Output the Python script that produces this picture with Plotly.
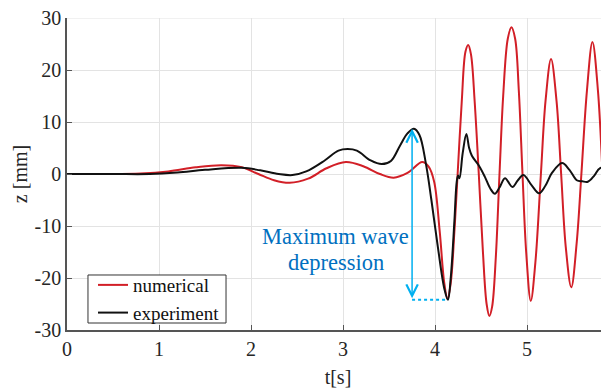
import plotly.graph_objects as go

# ---- data ----
t_num = [0, 0.4, 0.8, 1.1, 1.4, 1.68, 1.9, 2.08, 2.25, 2.42, 2.62, 2.82, 3.03, 3.22, 3.4, 3.55,
         3.7, 3.86, 3.93, 3.99, 4.05, 4.1, 4.135, 4.17, 4.21, 4.245, 4.29, 4.33, 4.36, 4.39,
         4.43, 4.475, 4.52, 4.56, 4.59, 4.62, 4.66, 4.70, 4.74, 4.79, 4.83, 4.87, 4.91, 4.95,
         4.99, 5.04, 5.09, 5.15, 5.2, 5.26, 5.32, 5.37, 5.42, 5.48, 5.54, 5.59, 5.65, 5.71,
         5.77, 5.82, 5.86, 5.89]
z_num = [0, 0, 0.1, 0.5, 1.3, 1.7, 1.3, 0, -1.2, -1.7, -0.9, 1.1, 2.3, 1.5, 0, -0.7,
         0.2, 2.3, 1.4, -1.5, -11, -21, -24.0, -21, -11, 0, 14, 23.5, 24.8, 23,
         14, 0, -15, -25, -27.3, -25.5, -16, 0, 15, 26, 28.2, 26, 16, 0,
         -15, -24.4, -17, 0, 14, 22.1, 14, 0, -14, -21.8, -13, 0, 16, 25.4,
         16, 0, -15, -26]

t_exp = [0, 0.5, 0.9, 1.2, 1.5, 1.9, 2.1, 2.3, 2.45, 2.6, 2.8, 2.95, 3.05, 3.15, 3.3, 3.42,
         3.52, 3.62, 3.7, 3.77, 3.83, 3.9, 3.96, 4.03, 4.1, 4.14, 4.17, 4.21, 4.235, 4.25,
         4.265, 4.30, 4.34, 4.37, 4.40, 4.48, 4.54, 4.60, 4.65, 4.70, 4.76, 4.84, 4.90, 4.96,
         5.05, 5.13, 5.2, 5.27, 5.38, 5.46, 5.54, 5.60, 5.66, 5.73, 5.79, 5.89]
z_exp = [0, 0, 0, 0.3, 0.8, 1.2, 0.7, 0, -0.2, 0.5, 2.6, 4.5, 4.8, 4.5, 2.6, 1.9,
         2.5, 5.5, 7.8, 8.7, 7.5, 2, -5, -14, -22, -24.2, -20, -9, -1.5, -0.3,
         -0.8, 4, 7.7, 5, 3.5, 1.5, -0.5, -2.8, -3.8, -2.6, -0.8, -2.5, -1.2, -0.2,
         -2.2, -3.7, -2.2, 0.2, 2.1, 0.8, -1.2, -1.4, -1.5, -0.3, 1.1, 1.2]

x_ticks = [0, 1, 2, 3, 4, 5]
y_ticks = [-30, -20, -10, 0, 10, 20, 30]

arrow_t = 3.75
arrow_top = 8.7
arrow_bottom = -24.2
dot_end_t = 4.11

FONT = "Liberation Serif"
GRID = "#e3e3e3"

fig = go.Figure()
fig.add_trace(go.Scatter(x=t_num, y=z_num, mode="lines", name="numerical",
                         line=dict(color="#d21f27", width=2, shape="spline")))
fig.add_trace(go.Scatter(x=t_exp, y=z_exp, mode="lines", name="experiment",
                         line=dict(color="#111111", width=2, shape="spline")))

# top grid line (at y = 30)
fig.add_shape(type="line", xref="paper", yref="y", x0=0, x1=1, y0=y_ticks[-1], y1=y_ticks[-1],
              layer="below", line=dict(color=GRID, width=1))

# dotted guide at the depression level
fig.add_shape(type="line", x0=arrow_t, x1=dot_end_t, y0=arrow_bottom, y1=arrow_bottom,
              xref="x", yref="y", line=dict(color="#00b0f0", width=2, dash="dot"))

# legend frame
fig.add_shape(type="rect", xref="paper", yref="paper", x0=0.0387, x1=0.2934,
              y0=0.0224, y1=0.1763, layer="above",
              line=dict(color="#333333", width=1), fillcolor="white")

fig.add_annotation(x=arrow_t, y=arrow_top, ax=arrow_t, ay=arrow_bottom,
                   xref="x", yref="y", axref="x", ayref="y", text="",
                   showarrow=True, arrowside="end+start", arrowhead=5, startarrowhead=5,
                   arrowsize=1.5, startarrowsize=1.5, arrowwidth=1.5, arrowcolor="#00b0f0",
                   standoff=0, startstandoff=0)

fig.add_annotation(x=2.92, y=-12.1, xref="x", yref="y", text="Maximum wave",
                   showarrow=False, font=dict(family=FONT, size=22.5, color="#0070c0"))
fig.add_annotation(x=2.92, y=-17.1, xref="x", yref="y", text="depression",
                   showarrow=False, font=dict(family=FONT, size=22.5, color="#0070c0"))

fig.update_layout(
    width=601, height=384,
    margin=dict(l=59, r=0, t=10, b=62, autoexpand=False),
    paper_bgcolor="white", plot_bgcolor="white",
    font=dict(family=FONT, size=20, color="#262626"),
    showlegend=True,
    legend=dict(x=0.048, y=0.205, xanchor="left", yanchor="top",
                bgcolor="rgba(0,0,0,0)", borderwidth=0,
                font=dict(family=FONT, size=19, color="#111111")),
    xaxis=dict(range=[0, 5.89], tickvals=x_ticks, ticktext=[str(v) for v in x_ticks],
               showgrid=True, gridcolor=GRID, zeroline=False, automargin=False,
               showline=True, linecolor="#555555", linewidth=1.5,
               ticks="inside", ticklen=5, tickcolor="#555555",
               ticklabeloverflow="allow",
               tickfont=dict(family=FONT, size=20, color="#262626"),
               title=dict(text="t[s]", font=dict(family=FONT, size=20), standoff=11)),
    yaxis=dict(range=[-30, 30], tickvals=y_ticks, ticktext=[str(v) for v in y_ticks],
               showgrid=True, gridcolor=GRID, zeroline=False, automargin=False,
               showline=True, linecolor="#555555", linewidth=1.5,
               ticks="inside", ticklen=5, tickcolor="#555555",
               ticklabeloverflow="allow",
               tickfont=dict(family=FONT, size=20, color="#262626"),
               title=dict(text="z [mm]", font=dict(family=FONT, size=20), standoff=2)),
)

fig.write_html("out.html")
